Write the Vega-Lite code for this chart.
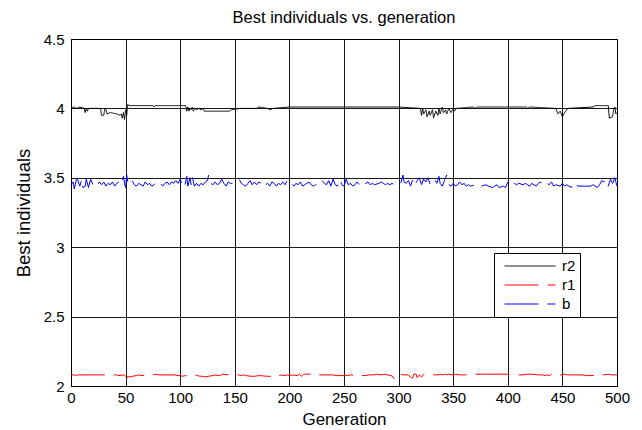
{
  "$schema": "https://vega.github.io/schema/vega-lite/v6.json",
  "width": 546,
  "height": 347,
  "autosize": {"type": "none"},
  "padding": {"left": 71, "top": 39, "right": 25, "bottom": 44},
  "background": "white",
  "title": {"text": "Best individuals vs. generation", "font": "Liberation Sans", "fontSize": 16.5, "fontWeight": "normal", "color": "black", "offset": 6},
  "config": {
    "view": {"stroke": "black", "strokeWidth": 1},
    "axis": {"labelFont": "Liberation Sans", "titleFont": "Liberation Sans", "labelColor": "black", "titleColor": "black", "titleFontWeight": "normal", "grid": true, "gridColor": "black", "gridOpacity": 0.9, "gridWidth": 1, "domainColor": "black", "ticks": false, "labelFontSize": 15, "titleFontSize": 17}
  },
  "data": {"values": [
    {"s":"r2","g":0,"v":4.0},{"s":"r2","g":3,"v":4.01},{"s":"r2","g":5,"v":4.0},{"s":"r2","g":8,"v":4.01},{"s":"r2","g":12,"v":4.0},{"s":"r2","g":13,"v":3.97},{"s":"r2","g":14,"v":4.0},{"s":"r2","g":15,"v":3.98},{"s":"r2","g":16,"v":4.0},{"s":"r2","g":27,"v":4.0},{"s":"r2","g":28,"v":3.95},{"s":"r2","g":30,"v":3.95},{"s":"r2","g":31,"v":4.0},{"s":"r2","g":32,"v":3.99},{"s":"r2","g":33,"v":3.96},{"s":"r2","g":36,"v":3.97},{"s":"r2","g":42,"v":3.96},{"s":"r2","g":45,"v":3.95},{"s":"r2","g":46,"v":3.96},{"s":"r2","g":47,"v":3.93},{"s":"r2","g":48,"v":3.97},{"s":"r2","g":49,"v":3.92},{"s":"r2","g":50,"v":3.99},{"s":"r2","g":51,"v":3.95},{"s":"r2","g":52,"v":4.03},{"s":"r2","g":53,"v":4.02},{"s":"r2","g":75,"v":4.02},{"s":"r2","g":76,"v":4.01},{"s":"r2","g":77,"v":4.02},{"s":"r2","g":105,"v":4.02},{"s":"r2","g":106,"v":3.98},{"s":"r2","g":107,"v":4.01},{"s":"r2","g":108,"v":3.98},{"s":"r2","g":109,"v":4.0},{"s":"r2","g":110,"v":3.99},{"s":"r2","g":111,"v":4.01},{"s":"r2","g":112,"v":3.98},{"s":"r2","g":114,"v":4.0},{"s":"r2","g":115,"v":3.99},{"s":"r2","g":117,"v":4.0},{"s":"r2","g":119,"v":3.99},{"s":"r2","g":121,"v":4.0},{"s":"r2","g":122,"v":3.98},{"s":"r2","g":145,"v":3.98},{"s":"r2","g":147,"v":3.99},{"s":"r2","g":155,"v":4.0},{"s":"r2","g":170,"v":4.0},{"s":"r2","g":172,"v":4.01},{"s":"r2","g":180,"v":4.0},{"s":"r2","g":182,"v":3.99},{"s":"r2","g":185,"v":4.0},{"s":"r2","g":200,"v":4.01},{"s":"r2","g":250,"v":4.01},{"s":"r2","g":300,"v":4.01},{"s":"r2","g":320,"v":4.0},{"s":"r2","g":321,"v":3.95},{"s":"r2","g":322,"v":4.0},{"s":"r2","g":323,"v":3.96},{"s":"r2","g":325,"v":3.99},{"s":"r2","g":326,"v":3.94},{"s":"r2","g":328,"v":3.98},{"s":"r2","g":329,"v":3.95},{"s":"r2","g":331,"v":3.99},{"s":"r2","g":332,"v":3.93},{"s":"r2","g":334,"v":3.98},{"s":"r2","g":336,"v":3.95},{"s":"r2","g":337,"v":4.0},{"s":"r2","g":338,"v":3.96},{"s":"r2","g":340,"v":4.01},{"s":"r2","g":341,"v":3.97},{"s":"r2","g":343,"v":3.99},{"s":"r2","g":344,"v":3.96},{"s":"r2","g":346,"v":4.0},{"s":"r2","g":348,"v":3.97},{"s":"r2","g":350,"v":4.0},{"s":"r2","g":351,"v":3.98},{"s":"r2","g":353,"v":4.0},{"s":"r2","g":368,"v":4.01},{"s":"r2","g":370,"v":4.0},{"s":"r2","g":372,"v":4.01},{"s":"r2","g":417,"v":4.01},{"s":"r2","g":418,"v":4.0},{"s":"r2","g":420,"v":4.01},{"s":"r2","g":444,"v":4.0},{"s":"r2","g":446,"v":3.96},{"s":"r2","g":448,"v":3.98},{"s":"r2","g":450,"v":3.94},{"s":"r2","g":452,"v":3.97},{"s":"r2","g":455,"v":4.0},{"s":"r2","g":478,"v":4.01},{"s":"r2","g":480,"v":4.02},{"s":"r2","g":492,"v":4.02},{"s":"r2","g":493,"v":3.93},{"s":"r2","g":496,"v":3.94},{"s":"r2","g":497,"v":4.0},{"s":"r2","g":498,"v":4.01},{"s":"r2","g":499,"v":3.96},{"s":"r2","g":500,"v":3.97},
    {"s":"r1","g":0,"v":2.08},{"s":"r1","g":3,"v":2.08},{"s":"r1","g":4,"v":2.075},{"s":"r1","g":6,"v":2.08},{"s":"r1","g":28,"v":2.08},{"s":"r1","g":35,"v":2.08},{"s":"r1","g":37,"v":2.075},{"s":"r1","g":40,"v":2.08},{"s":"r1","g":42,"v":2.08},{"s":"r1","g":44,"v":2.075},{"s":"r1","g":48,"v":2.08},{"s":"r1","g":50,"v":2.07},{"s":"r1","g":51,"v":2.075},{"s":"r1","g":52,"v":2.06},{"s":"r1","g":53,"v":2.07},{"s":"r1","g":54,"v":2.065},{"s":"r1","g":56,"v":2.07},{"s":"r1","g":60,"v":2.075},{"s":"r1","g":62,"v":2.08},{"s":"r1","g":65,"v":2.075},{"s":"r1","g":70,"v":2.08},{"s":"r1","g":75,"v":2.08},{"s":"r1","g":78,"v":2.085},{"s":"r1","g":80,"v":2.08},{"s":"r1","g":95,"v":2.08},{"s":"r1","g":98,"v":2.075},{"s":"r1","g":100,"v":2.075},{"s":"r1","g":102,"v":2.07},{"s":"r1","g":105,"v":2.075},{"s":"r1","g":108,"v":2.07},{"s":"r1","g":110,"v":2.075},{"s":"r1","g":113,"v":2.08},{"s":"r1","g":116,"v":2.075},{"s":"r1","g":118,"v":2.07},{"s":"r1","g":121,"v":2.07},{"s":"r1","g":123,"v":2.065},{"s":"r1","g":126,"v":2.07},{"s":"r1","g":130,"v":2.075},{"s":"r1","g":132,"v":2.08},{"s":"r1","g":135,"v":2.075},{"s":"r1","g":138,"v":2.08},{"s":"r1","g":140,"v":2.085},{"s":"r1","g":143,"v":2.08},{"s":"r1","g":145,"v":2.085},{"s":"r1","g":148,"v":2.08},{"s":"r1","g":150,"v":2.08},{"s":"r1","g":152,"v":2.085},{"s":"r1","g":155,"v":2.075},{"s":"r1","g":158,"v":2.08},{"s":"r1","g":160,"v":2.075},{"s":"r1","g":165,"v":2.07},{"s":"r1","g":168,"v":2.07},{"s":"r1","g":172,"v":2.075},{"s":"r1","g":180,"v":2.07},{"s":"r1","g":184,"v":2.07},{"s":"r1","g":187,"v":2.075},{"s":"r1","g":189,"v":2.085},{"s":"r1","g":191,"v":2.075},{"s":"r1","g":193,"v":2.08},{"s":"r1","g":195,"v":2.075},{"s":"r1","g":198,"v":2.08},{"s":"r1","g":200,"v":2.075},{"s":"r1","g":203,"v":2.08},{"s":"r1","g":207,"v":2.075},{"s":"r1","g":209,"v":2.085},{"s":"r1","g":211,"v":2.07},{"s":"r1","g":213,"v":2.085},{"s":"r1","g":225,"v":2.085},{"s":"r1","g":228,"v":2.08},{"s":"r1","g":240,"v":2.08},{"s":"r1","g":243,"v":2.075},{"s":"r1","g":253,"v":2.075},{"s":"r1","g":256,"v":2.08},{"s":"r1","g":260,"v":2.075},{"s":"r1","g":270,"v":2.075},{"s":"r1","g":273,"v":2.08},{"s":"r1","g":277,"v":2.08},{"s":"r1","g":280,"v":2.085},{"s":"r1","g":284,"v":2.08},{"s":"r1","g":287,"v":2.085},{"s":"r1","g":290,"v":2.08},{"s":"r1","g":293,"v":2.075},{"s":"r1","g":295,"v":2.065},{"s":"r1","g":296,"v":2.05},{"s":"r1","g":297,"v":2.065},{"s":"r1","g":299,"v":2.08},{"s":"r1","g":301,"v":2.085},{"s":"r1","g":305,"v":2.08},{"s":"r1","g":309,"v":2.08},{"s":"r1","g":312,"v":2.055},{"s":"r1","g":313,"v":2.06},{"s":"r1","g":314,"v":2.085},{"s":"r1","g":316,"v":2.085},{"s":"r1","g":317,"v":2.06},{"s":"r1","g":319,"v":2.08},{"s":"r1","g":321,"v":2.065},{"s":"r1","g":323,"v":2.085},{"s":"r1","g":325,"v":2.08},{"s":"r1","g":336,"v":2.08},{"s":"r1","g":338,"v":2.085},{"s":"r1","g":340,"v":2.08},{"s":"r1","g":342,"v":2.085},{"s":"r1","g":344,"v":2.08},{"s":"r1","g":346,"v":2.085},{"s":"r1","g":349,"v":2.08},{"s":"r1","g":352,"v":2.085},{"s":"r1","g":356,"v":2.08},{"s":"r1","g":366,"v":2.08},{"s":"r1","g":370,"v":2.085},{"s":"r1","g":405,"v":2.085},{"s":"r1","g":410,"v":2.08},{"s":"r1","g":413,"v":2.08},{"s":"r1","g":418,"v":2.085},{"s":"r1","g":423,"v":2.085},{"s":"r1","g":428,"v":2.08},{"s":"r1","g":432,"v":2.08},{"s":"r1","g":434,"v":2.075},{"s":"r1","g":436,"v":2.08},{"s":"r1","g":438,"v":2.075},{"s":"r1","g":440,"v":2.085},{"s":"r1","g":442,"v":2.075},{"s":"r1","g":444,"v":2.08},{"s":"r1","g":450,"v":2.08},{"s":"r1","g":452,"v":2.085},{"s":"r1","g":455,"v":2.08},{"s":"r1","g":468,"v":2.08},{"s":"r1","g":472,"v":2.075},{"s":"r1","g":480,"v":2.075},{"s":"r1","g":484,"v":2.08},{"s":"r1","g":488,"v":2.08},{"s":"r1","g":491,"v":2.085},{"s":"r1","g":495,"v":2.08},{"s":"r1","g":500,"v":2.08},
    {"s":"b","g":0,"v":3.45},{"s":"b","g":2,"v":3.47},{"s":"b","g":3,"v":3.42},{"s":"b","g":5,"v":3.49},{"s":"b","g":6,"v":3.49},{"s":"b","g":8,"v":3.44},{"s":"b","g":10,"v":3.49},{"s":"b","g":11,"v":3.43},{"s":"b","g":13,"v":3.44},{"s":"b","g":14,"v":3.49},{"s":"b","g":16,"v":3.43},{"s":"b","g":18,"v":3.49},{"s":"b","g":20,"v":3.45},{"s":"b","g":22,"v":3.46},{"s":"b","g":24,"v":3.44},{"s":"b","g":26,"v":3.47},{"s":"b","g":28,"v":3.45},{"s":"b","g":30,"v":3.47},{"s":"b","g":32,"v":3.44},{"s":"b","g":34,"v":3.46},{"s":"b","g":36,"v":3.45},{"s":"b","g":38,"v":3.47},{"s":"b","g":40,"v":3.44},{"s":"b","g":42,"v":3.46},{"s":"b","g":44,"v":3.47},{"s":"b","g":46,"v":3.45},{"s":"b","g":48,"v":3.51},{"s":"b","g":49,"v":3.46},{"s":"b","g":50,"v":3.43},{"s":"b","g":51,"v":3.52},{"s":"b","g":52,"v":3.47},{"s":"b","g":54,"v":3.45},{"s":"b","g":56,"v":3.48},{"s":"b","g":58,"v":3.45},{"s":"b","g":60,"v":3.44},{"s":"b","g":62,"v":3.46},{"s":"b","g":64,"v":3.45},{"s":"b","g":66,"v":3.44},{"s":"b","g":68,"v":3.47},{"s":"b","g":70,"v":3.45},{"s":"b","g":72,"v":3.46},{"s":"b","g":74,"v":3.44},{"s":"b","g":76,"v":3.45},{"s":"b","g":78,"v":3.47},{"s":"b","g":80,"v":3.45},{"s":"b","g":82,"v":3.46},{"s":"b","g":84,"v":3.44},{"s":"b","g":86,"v":3.46},{"s":"b","g":88,"v":3.47},{"s":"b","g":90,"v":3.45},{"s":"b","g":92,"v":3.47},{"s":"b","g":94,"v":3.46},{"s":"b","g":96,"v":3.48},{"s":"b","g":98,"v":3.46},{"s":"b","g":100,"v":3.49},{"s":"b","g":102,"v":3.45},{"s":"b","g":104,"v":3.43},{"s":"b","g":106,"v":3.51},{"s":"b","g":107,"v":3.44},{"s":"b","g":109,"v":3.5},{"s":"b","g":110,"v":3.45},{"s":"b","g":111,"v":3.51},{"s":"b","g":113,"v":3.44},{"s":"b","g":115,"v":3.46},{"s":"b","g":117,"v":3.44},{"s":"b","g":119,"v":3.46},{"s":"b","g":121,"v":3.45},{"s":"b","g":123,"v":3.47},{"s":"b","g":125,"v":3.48},{"s":"b","g":126,"v":3.52},{"s":"b","g":128,"v":3.46},{"s":"b","g":130,"v":3.45},{"s":"b","g":132,"v":3.47},{"s":"b","g":134,"v":3.45},{"s":"b","g":136,"v":3.46},{"s":"b","g":138,"v":3.49},{"s":"b","g":140,"v":3.46},{"s":"b","g":142,"v":3.44},{"s":"b","g":144,"v":3.47},{"s":"b","g":146,"v":3.46},{"s":"b","g":150,"v":3.46},{"s":"b","g":152,"v":3.48},{"s":"b","g":154,"v":3.49},{"s":"b","g":156,"v":3.46},{"s":"b","g":158,"v":3.45},{"s":"b","g":160,"v":3.44},{"s":"b","g":162,"v":3.46},{"s":"b","g":164,"v":3.48},{"s":"b","g":166,"v":3.45},{"s":"b","g":168,"v":3.47},{"s":"b","g":170,"v":3.45},{"s":"b","g":172,"v":3.47},{"s":"b","g":174,"v":3.46},{"s":"b","g":176,"v":3.48},{"s":"b","g":178,"v":3.45},{"s":"b","g":180,"v":3.46},{"s":"b","g":182,"v":3.44},{"s":"b","g":184,"v":3.47},{"s":"b","g":186,"v":3.46},{"s":"b","g":188,"v":3.44},{"s":"b","g":190,"v":3.46},{"s":"b","g":192,"v":3.45},{"s":"b","g":194,"v":3.47},{"s":"b","g":196,"v":3.45},{"s":"b","g":198,"v":3.48},{"s":"b","g":200,"v":3.45},{"s":"b","g":202,"v":3.46},{"s":"b","g":204,"v":3.44},{"s":"b","g":206,"v":3.46},{"s":"b","g":208,"v":3.45},{"s":"b","g":210,"v":3.47},{"s":"b","g":212,"v":3.44},{"s":"b","g":214,"v":3.45},{"s":"b","g":216,"v":3.46},{"s":"b","g":218,"v":3.47},{"s":"b","g":220,"v":3.45},{"s":"b","g":222,"v":3.44},{"s":"b","g":224,"v":3.45},{"s":"b","g":226,"v":3.46},{"s":"b","g":228,"v":3.45},{"s":"b","g":230,"v":3.48},{"s":"b","g":232,"v":3.46},{"s":"b","g":234,"v":3.45},{"s":"b","g":236,"v":3.48},{"s":"b","g":238,"v":3.44},{"s":"b","g":240,"v":3.49},{"s":"b","g":242,"v":3.45},{"s":"b","g":244,"v":3.44},{"s":"b","g":246,"v":3.49},{"s":"b","g":248,"v":3.45},{"s":"b","g":250,"v":3.44},{"s":"b","g":252,"v":3.49},{"s":"b","g":254,"v":3.45},{"s":"b","g":256,"v":3.46},{"s":"b","g":258,"v":3.44},{"s":"b","g":260,"v":3.45},{"s":"b","g":262,"v":3.47},{"s":"b","g":264,"v":3.45},{"s":"b","g":266,"v":3.46},{"s":"b","g":268,"v":3.44},{"s":"b","g":270,"v":3.46},{"s":"b","g":272,"v":3.47},{"s":"b","g":274,"v":3.45},{"s":"b","g":276,"v":3.46},{"s":"b","g":278,"v":3.45},{"s":"b","g":282,"v":3.46},{"s":"b","g":284,"v":3.47},{"s":"b","g":286,"v":3.46},{"s":"b","g":288,"v":3.45},{"s":"b","g":290,"v":3.46},{"s":"b","g":292,"v":3.45},{"s":"b","g":294,"v":3.46},{"s":"b","g":296,"v":3.45},{"s":"b","g":298,"v":3.46},{"s":"b","g":300,"v":3.45},{"s":"b","g":302,"v":3.46},{"s":"b","g":304,"v":3.52},{"s":"b","g":305,"v":3.47},{"s":"b","g":307,"v":3.46},{"s":"b","g":309,"v":3.48},{"s":"b","g":311,"v":3.44},{"s":"b","g":313,"v":3.49},{"s":"b","g":315,"v":3.45},{"s":"b","g":317,"v":3.48},{"s":"b","g":319,"v":3.5},{"s":"b","g":321,"v":3.45},{"s":"b","g":323,"v":3.49},{"s":"b","g":325,"v":3.47},{"s":"b","g":327,"v":3.5},{"s":"b","g":329,"v":3.45},{"s":"b","g":331,"v":3.47},{"s":"b","g":333,"v":3.49},{"s":"b","g":335,"v":3.46},{"s":"b","g":337,"v":3.51},{"s":"b","g":338,"v":3.46},{"s":"b","g":340,"v":3.44},{"s":"b","g":342,"v":3.48},{"s":"b","g":344,"v":3.52},{"s":"b","g":346,"v":3.45},{"s":"b","g":348,"v":3.44},{"s":"b","g":350,"v":3.46},{"s":"b","g":352,"v":3.44},{"s":"b","g":354,"v":3.45},{"s":"b","g":356,"v":3.47},{"s":"b","g":358,"v":3.45},{"s":"b","g":360,"v":3.46},{"s":"b","g":362,"v":3.44},{"s":"b","g":364,"v":3.45},{"s":"b","g":366,"v":3.44},{"s":"b","g":370,"v":3.45},{"s":"b","g":372,"v":3.44},{"s":"b","g":374,"v":3.43},{"s":"b","g":376,"v":3.44},{"s":"b","g":380,"v":3.45},{"s":"b","g":382,"v":3.44},{"s":"b","g":386,"v":3.43},{"s":"b","g":388,"v":3.44},{"s":"b","g":390,"v":3.45},{"s":"b","g":392,"v":3.43},{"s":"b","g":396,"v":3.44},{"s":"b","g":398,"v":3.43},{"s":"b","g":400,"v":3.47},{"s":"b","g":402,"v":3.45},{"s":"b","g":404,"v":3.44},{"s":"b","g":406,"v":3.46},{"s":"b","g":408,"v":3.45},{"s":"b","g":410,"v":3.46},{"s":"b","g":414,"v":3.45},{"s":"b","g":416,"v":3.46},{"s":"b","g":418,"v":3.45},{"s":"b","g":420,"v":3.44},{"s":"b","g":422,"v":3.46},{"s":"b","g":424,"v":3.45},{"s":"b","g":426,"v":3.44},{"s":"b","g":428,"v":3.46},{"s":"b","g":430,"v":3.47},{"s":"b","g":432,"v":3.45},{"s":"b","g":434,"v":3.44},{"s":"b","g":436,"v":3.46},{"s":"b","g":438,"v":3.45},{"s":"b","g":440,"v":3.47},{"s":"b","g":442,"v":3.44},{"s":"b","g":444,"v":3.45},{"s":"b","g":448,"v":3.44},{"s":"b","g":450,"v":3.46},{"s":"b","g":452,"v":3.44},{"s":"b","g":454,"v":3.45},{"s":"b","g":456,"v":3.44},{"s":"b","g":458,"v":3.43},{"s":"b","g":460,"v":3.46},{"s":"b","g":462,"v":3.47},{"s":"b","g":464,"v":3.44},{"s":"b","g":476,"v":3.44},{"s":"b","g":478,"v":3.45},{"s":"b","g":480,"v":3.44},{"s":"b","g":482,"v":3.43},{"s":"b","g":484,"v":3.45},{"s":"b","g":486,"v":3.48},{"s":"b","g":488,"v":3.47},{"s":"b","g":490,"v":3.49},{"s":"b","g":492,"v":3.44},{"s":"b","g":494,"v":3.49},{"s":"b","g":496,"v":3.46},{"s":"b","g":498,"v":3.5},{"s":"b","g":500,"v":3.44}
  ]},
  "mark": {"type": "line", "strokeWidth": 1, "interpolate": "linear"},
  "encoding": {
    "x": {"field": "g", "type": "quantitative", "scale": {"domain": [0, 500], "nice": false}, "axis": {"title": "Generation", "values": [0,50,100,150,200,250,300,350,400,450,500], "labelFlush": false, "labelPadding": 4, "titlePadding": 6}},
    "y": {"field": "v", "type": "quantitative", "scale": {"domain": [2, 4.5], "nice": false, "zero": false}, "axis": {"title": "Best individuals", "titleFontSize": 18.5, "values": [2,2.5,3,3.5,4,4.5], "labelExpr": "datum.value", "labelPadding": 7, "titlePadding": 10, "labelFlush": false}},
    "color": {"field": "s", "type": "nominal", "scale": {"domain": ["r2","r1","b"], "range": ["#000000","#ff0000","#0000ff"]}, "legend": {"title": null, "orient": "none", "legendX": 423, "legendY": 214, "fillColor": "white", "strokeColor": "black", "padding": 4, "symbolType": "stroke", "symbolSize": 2600, "symbolStrokeWidth": 1, "clipHeight": 18, "rowPadding": 1, "symbolOffset": 6, "labelOffset": 6, "labelFont": "Liberation Sans", "labelFontSize": 15, "labelColor": "black", "cornerRadius": 0}},
    "strokeDash": {"field": "s", "type": "nominal", "scale": {"domain": ["r2","r1","b"], "range": [[1,0],[34,9],[34,9]]}, "legend": {"title": null, "orient": "none", "legendX": 423, "legendY": 214, "fillColor": "white", "strokeColor": "black", "padding": 4, "symbolType": "stroke", "symbolSize": 2600, "symbolStrokeWidth": 1, "clipHeight": 18, "rowPadding": 1, "symbolOffset": 6, "labelOffset": 6, "labelFont": "Liberation Sans", "labelFontSize": 15, "labelColor": "black", "cornerRadius": 0}}
  }
}
